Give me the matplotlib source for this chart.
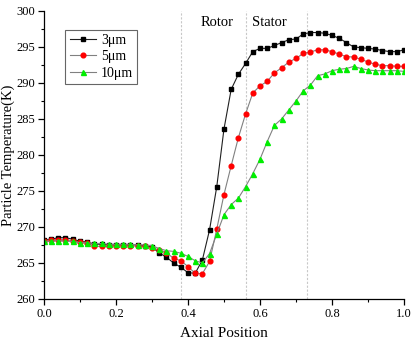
import numpy as np
import matplotlib.pyplot as plt

plt.rcParams['font.family'] = ['Liberation Serif', 'DejaVu Serif']

# axial stations, 0.02 spacing
x = np.round(np.arange(0, 1.0001, 0.02), 2)

t_3um = [268.2, 268.3, 268.5, 268.5, 268.3, 268.0, 267.9, 267.6, 267.6, 267.5,
         267.5, 267.5, 267.5, 267.5, 267.4, 267.2, 266.4, 265.8, 265.0, 264.4,
         263.65, 263.55, 265.4, 269.6, 275.6, 283.6, 289.1, 291.2, 292.7, 294.35,
         294.8, 294.8, 295.2, 295.6, 296.0, 296.1, 296.8, 297.0, 297.0, 296.9,
         296.6, 296.2, 295.6, 295.0, 294.9, 294.8, 294.7, 294.5, 294.35, 294.35,
         294.6]
t_5um = [268.1, 268.2, 268.2, 268.2, 268.1, 267.9, 267.8, 267.3, 267.3, 267.3,
         267.4, 267.4, 267.4, 267.3, 267.3, 267.1, 266.8, 266.4, 265.65, 265.3,
         264.5, 263.55, 263.5, 265.2, 269.7, 274.5, 278.5, 282.4, 285.7, 288.6,
         289.6, 290.2, 291.4, 292.1, 292.9, 293.4, 294.1, 294.3, 294.6, 294.6,
         294.35, 294.0, 293.65, 293.6, 293.3, 292.9, 292.6, 292.4, 292.4, 292.3,
         292.3]
t_10um = [268.0, 268.0, 268.1, 268.0, 268.0, 267.8, 267.8, 267.7, 267.7, 267.6,
          267.6, 267.6, 267.6, 267.5, 267.5, 267.4, 267.0, 266.7, 266.6, 266.35,
          265.9, 265.3, 265.0, 266.3, 269.0, 271.7, 273.1, 274.0, 275.6, 277.4,
          279.4, 281.85, 284.1, 285.0, 286.25, 287.5, 288.9, 289.7, 291.0, 291.25,
          291.7, 291.9, 292.0, 292.3, 292.0, 291.8, 291.7, 291.7, 291.7, 291.7,
          291.6]

boundaries = [0.38, 0.56, 0.73]

fig = plt.figure(figsize=(4.14, 3.42), dpi=100)
ax = fig.add_axes([0.106, 0.126, 0.870, 0.842])

for b in boundaries:
    ax.axvline(b, color='#c8c8c8', ls=(0, (2, 1.5)), lw=0.8, zorder=0)

ax.plot(x, t_3um, color='#202020', lw=0.8, marker='s', ms=3.2,
        mfc='black', mec='black', label='3μm')
ax.plot(x, t_5um, color='#808080', lw=0.8, marker='o', ms=3.4,
        mfc='red', mec='red', label='5μm')
ax.plot(x, t_10um, color='#808080', lw=0.8, marker='^', ms=3.6,
        mfc='#00ee00', mec='#00ee00', label='10μm')

ax.text(0.48, 298.4, 'Rotor', ha='center', va='center', fontsize=10.5)
ax.text(0.625, 298.4, 'Stator', ha='center', va='center', fontsize=10.5)

ax.set_xlim(0, 1.0)
ax.set_ylim(260, 300)
ax.set_xticks([0.0, 0.2, 0.4, 0.6, 0.8, 1.0])
ax.set_xticks(np.arange(0.1, 1.0, 0.2), minor=True)
ax.set_yticks(np.arange(260, 301, 5))
ax.set_yticks(np.arange(262.5, 300, 5), minor=True)
ax.set_xticklabels(['0.0', '0.2', '0.4', '0.6', '0.8', '1.0'])

ax.spines['top'].set_visible(False)
ax.spines['right'].set_visible(False)
for s in ['left', 'bottom']:
    ax.spines[s].set_linewidth(0.9)
ax.tick_params(which='major', direction='out', length=4, width=0.9,
               labelsize=9, pad=2.5)
ax.tick_params(which='minor', direction='out', length=2.2, width=0.8)

ax.set_xlabel('Axial Position', fontsize=11, labelpad=5)
ax.set_ylabel('Particle Temperature(K)', fontsize=10.5, labelpad=1)

leg = ax.legend(loc='upper left', bbox_to_anchor=(0.06, 0.935), fontsize=10,
                frameon=True, fancybox=False, edgecolor='#404040',
                handlelength=1.9, handletextpad=0.35, borderpad=0.3,
                labelspacing=0.25, borderaxespad=0)
leg.get_frame().set_linewidth(0.8)

fig.savefig('out.png', dpi=100)
